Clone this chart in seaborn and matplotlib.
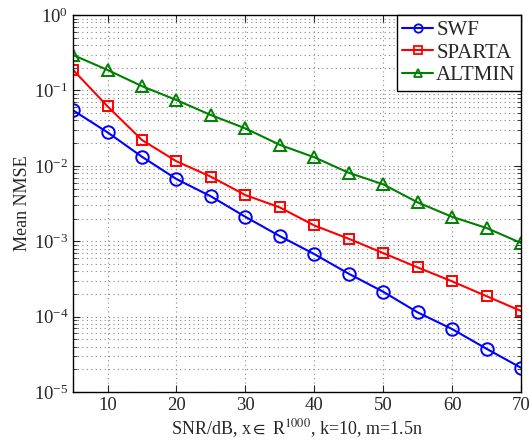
import matplotlib.pyplot as plt
import numpy as np
import pandas as pd
import seaborn as sns
from matplotlib.lines import Line2D

snr = [5, 10, 15, 20, 25, 30, 35, 40, 45, 50, 55, 60, 65, 70]
swf = [0.0545, 0.0278, 0.0132, 0.00668, 0.00394, 0.00211, 0.00117,
       6.76e-4, 3.71e-4, 2.14e-4, 1.14e-4, 6.85e-5, 3.75e-5, 2.10e-5]
sparta = [0.187, 0.0615, 0.022, 0.0115, 0.00718, 0.0041, 0.00281,
          0.00162, 0.00108, 6.97e-4, 4.5e-4, 2.94e-4, 1.87e-4, 1.19e-4]
altmin = [0.295, 0.187, 0.114, 0.0746, 0.0472, 0.0314, 0.019,
          0.013, 0.0081, 0.00569, 0.00328, 0.00211, 0.0015, 9.5e-4]
methods = ["SWF", "SPARTA", "ALTMIN"]

df = pd.DataFrame({
    "snr": snr * 3,
    "nmse": swf + sparta + altmin,
    "method": np.repeat(methods, len(snr)),
})

sns.set_style("ticks")
plt.rcParams["font.family"] = ["Liberation Serif", "DejaVu Serif"]
plt.rcParams["mathtext.fontset"] = "stix"

fig = plt.figure(figsize=(5.3, 4.44), dpi=100)
ax = fig.add_axes((0.138, 0.117, 0.845, 0.849))

palette = {"SWF": "#0000ff", "SPARTA": "#ff0000", "ALTMIN": "#008000"}
markers = {"SWF": "o", "SPARTA": "s", "ALTMIN": "^"}
sizes = {"SWF": 9, "SPARTA": 7, "ALTMIN": 9}

for m in methods:
    sns.lineplot(
        data=df[df.method == m], x="snr", y="nmse",
        color=palette[m], marker=markers[m], markersize=sizes[m],
        markerfacecolor="none", markeredgecolor=palette[m],
        markeredgewidth=1.4, linewidth=1.5, legend=False, ax=ax,
    )

ax.set_yscale("log")
ax.set_xlim(5, 70)
ax.set_ylim(1e-5, 1)
ax.set_xticks([10, 20, 30, 40, 50, 60, 70])
ax.set_yticks([1e-5, 1e-4, 1e-3, 1e-2, 1e-1, 1])

dots = (0, (1, 3))
ax.grid(True, which="major", linestyle=dots, color="#888888", linewidth=0.8)
ax.grid(True, which="minor", axis="y", linestyle=dots, color="#888888", linewidth=0.8)
ax.tick_params(which="major", direction="in", top=True, right=True,
               labelsize=13.5, length=5)
ax.tick_params(which="minor", direction="in", top=True, right=True, length=3)
for s in ax.spines.values():
    s.set_linewidth(1.0)
    s.set_color("black")

ax.set_xlabel(r"SNR/dB, x$\in$ R$^{1000}$, k=10, m=1.5n", fontsize=13, labelpad=2)
ax.set_ylabel("Mean NMSE", fontsize=13, labelpad=2)

handles = [Line2D([], [], color=palette[m], marker=markers[m], markersize=6,
                  markerfacecolor="none", markeredgewidth=1.3, linewidth=1.5)
           for m in methods]
leg = ax.legend(handles, methods, loc="upper right", fontsize=15, frameon=True,
                fancybox=False, edgecolor="black", borderaxespad=0,
                handlelength=1.5, handletextpad=0.15, labelspacing=0.15,
                borderpad=0.25)
leg.get_frame().set_linewidth(1.0)
leg.get_frame().set_alpha(1)

fig.savefig("out.png", dpi=100)
